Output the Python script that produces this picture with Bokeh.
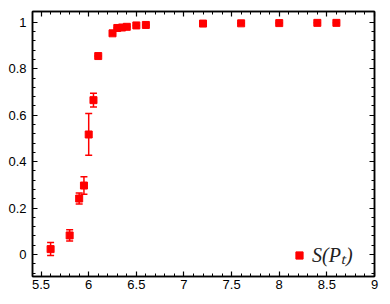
from bokeh.plotting import figure
from bokeh.models import (ColumnDataSource, Whisker, TeeHead, LinearAxis, FixedTicker,
                          Range1d, Legend, LegendItem, CustomLabelingPolicy)
from bokeh.embed import file_html
from bokeh.resources import INLINE

# data
p_values = [5.6, 5.8, 5.9, 5.95, 6.0, 6.05, 6.1, 6.25, 6.3, 6.35, 6.4, 6.5, 6.6, 7.2, 7.6, 8.0, 8.4, 8.6]
s_values = [0.023, 0.082, 0.241, 0.297, 0.517, 0.665, 0.855, 0.953, 0.976, 0.978, 0.981, 0.987,
            0.989, 0.995, 0.996, 0.997, 0.998, 0.998]
s_errors = [0.028, 0.024, 0.024, 0.038, 0.09, 0.03, 0.0, 0.0, 0.0, 0.0, 0.0, 0.0,
            0.0, 0.0, 0.0, 0.0, 0.0, 0.0]
x_ticks = [5.5, 6, 6.5, 7, 7.5, 8, 8.5, 9]
y_ticks = [0, 0.2, 0.4, 0.6, 0.8, 1]
legend_label = "S(P\u209c)"

src = ColumnDataSource(dict(
    x=p_values, y=s_values,
    lo=[v - e for v, e in zip(s_values, s_errors)],
    hi=[v + e for v, e in zip(s_values, s_errors)],
))

RED = "#ff0000"
p = figure(frame_width=342, frame_height=265, output_backend="svg", toolbar_location=None,
           x_range=Range1d(5.41, 9.0), y_range=Range1d(-0.095, 1.047),
           min_border_left=32, min_border_right=4, min_border_top=0, min_border_bottom=4,
           x_axis_type=None, y_axis_type=None)
p.grid.visible = False
p.outline_line_color = "black"
p.outline_line_width = 1.5
p.background_fill_color = "white"
p.border_fill_color = "white"

x_minor = [round(5.4 + 0.1 * i, 2) for i in range(37)]
y_minor = [round(-0.08 + 0.04 * i, 2) for i in range(28)]

hide_all = CustomLabelingPolicy(code="""
try { for (const i of Array.from(indices)) { indices.unset(i) } } catch (e) {}
return indices
""")

def make_axis(ticks, minor, labels=True, standoff=6):
    ax = LinearAxis(ticker=FixedTicker(ticks=ticks, minor_ticks=minor))
    ax.axis_line_color = "black"
    ax.axis_line_width = 1.5
    ax.major_tick_in = 5
    ax.major_tick_out = 0
    ax.minor_tick_in = 3
    ax.minor_tick_out = 0
    ax.major_tick_line_color = "black"
    ax.minor_tick_line_color = "black"
    ax.major_tick_line_width = 1.2
    ax.minor_tick_line_width = 1
    if labels:
        ax.major_label_text_font = "Liberation Sans"
        ax.major_label_text_font_size = "13px"
        ax.major_label_text_color = "black"
        ax.major_label_standoff = standoff
    else:
        ax.major_label_policy = hide_all
        ax.major_label_standoff = 0
    return ax

p.add_layout(make_axis(x_ticks, x_minor, standoff=3), "below")
p.add_layout(make_axis(y_ticks, y_minor, standoff=6), "left")
p.add_layout(make_axis(x_ticks, x_minor, labels=False), "above")
p.add_layout(make_axis(y_ticks, y_minor, labels=False), "right")

w = Whisker(source=src, base="x", lower="lo", upper="hi", line_color=RED, line_width=1.5,
            upper_head=TeeHead(size=7, line_color=RED, line_width=1.5),
            lower_head=TeeHead(size=7, line_color=RED, line_width=1.5))
p.add_layout(w)

r = p.scatter("x", "y", source=src, marker="square", size=7, fill_color=RED, line_color=RED)

legend = Legend(items=[LegendItem(label=legend_label, renderers=[r])],
                location=(258, 8), glyph_width=18, glyph_height=18, label_standoff=4,
                padding=0, spacing=0, margin=0,
                background_fill_alpha=0, border_line_alpha=0,
                label_text_font="Liberation Serif", label_text_font_style="italic",
                label_text_font_size="20px", label_text_color="#222222")
p.add_layout(legend, "center")

open("out.html", "w").write(file_html(p, INLINE))
